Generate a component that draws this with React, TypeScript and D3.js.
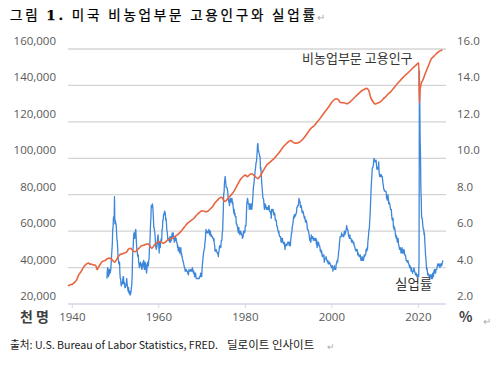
import React from 'react';
import * as d3 from 'd3';

// Non-farm payroll employment, thousands (year fraction, value)
const payrollPoints: [number, number][] = [
  [1939.0, 29900], [1939.5, 30600], [1940.0, 30800], [1940.5, 31900], [1941.0, 33300],
  [1941.5, 36100], [1942.0, 37700], [1942.5, 39800], [1943.0, 41400], [1943.8, 42500],
  [1944.0, 42000], [1944.5, 41800], [1945.0, 41400], [1945.4, 41200], [1945.75, 38800],
  [1946.0, 40000], [1946.5, 41900], [1947.0, 43500], [1947.5, 43800], [1948.0, 44700],
  [1948.6, 45200], [1949.0, 44700], [1949.8, 42900], [1950.0, 43500], [1950.5, 45400],
  [1951.0, 47100], [1951.5, 47500], [1952.0, 48000], [1952.5, 48400], [1953.0, 50100],
  [1953.5, 50600], [1954.0, 49200], [1954.6, 48700], [1955.0, 49700], [1955.5, 50800],
  [1956.0, 52000], [1956.5, 52200], [1957.0, 52800], [1957.5, 53000], [1958.0, 51500],
  [1958.4, 50600], [1959.0, 52500], [1959.5, 53500], [1960.0, 54300], [1960.5, 54200],
  [1961.0, 53300], [1961.5, 53900], [1962.0, 55000], [1962.5, 55600], [1963.0, 56000],
  [1963.5, 56700], [1964.0, 57500], [1964.5, 58400], [1965.0, 59500], [1965.5, 61000],
  [1966.0, 62500], [1966.5, 64000], [1967.0, 65000], [1967.5, 65900], [1968.0, 66800],
  [1968.5, 68100], [1969.0, 69400], [1969.5, 70500], [1970.0, 71200], [1970.5, 70900],
  [1971.0, 70600], [1971.5, 71300], [1972.0, 72400], [1972.5, 73700], [1973.0, 75600],
  [1973.5, 76800], [1974.0, 78100], [1974.6, 78600], [1975.0, 77000], [1975.3, 76300],
  [1976.0, 78000], [1976.5, 79300], [1977.0, 80700], [1977.5, 82400], [1978.0, 84600],
  [1978.5, 86800], [1979.0, 88800], [1979.5, 90000], [1980.0, 90800], [1980.5, 89900],
  [1981.0, 91000], [1981.5, 91500], [1982.0, 90600], [1982.9, 88800], [1983.0, 89000],
  [1983.5, 90500], [1984.0, 92600], [1984.5, 94600], [1985.0, 96400], [1985.5, 97500],
  [1986.0, 98500], [1986.5, 99500], [1987.0, 100800], [1987.5, 102200], [1988.0, 103700],
  [1988.5, 105400], [1989.0, 106900], [1989.5, 108000], [1990.0, 109200], [1990.5, 109800],
  [1991.0, 108900], [1991.5, 108300], [1992.0, 108400], [1992.5, 108800], [1993.0, 109800],
  [1993.5, 111000], [1994.0, 112600], [1994.5, 114300], [1995.0, 116000], [1995.5, 117100],
  [1996.0, 118000], [1996.5, 119600], [1997.0, 121000], [1997.5, 122600], [1998.0, 124200],
  [1998.5, 125800], [1999.0, 127300], [1999.5, 129000], [2000.0, 130800], [2000.5, 132000],
  [2001.0, 132700], [2001.5, 132200], [2002.0, 130600], [2002.5, 130500], [2003.0, 130400],
  [2003.5, 129900], [2004.0, 130600], [2004.5, 131600], [2005.0, 132700], [2005.5, 133900],
  [2006.0, 135100], [2006.5, 136200], [2007.0, 137200], [2007.5, 137800], [2008.0, 138400],
  [2008.5, 137400], [2009.0, 133300], [2009.5, 131200], [2010.0, 129800], [2010.5, 130200],
  [2011.0, 130700], [2011.5, 131600], [2012.0, 132900], [2012.5, 133900], [2013.0, 135300],
  [2013.5, 136300], [2014.0, 137600], [2014.5, 139000], [2015.0, 140600], [2015.5, 141900],
  [2016.0, 143200], [2016.5, 144400], [2017.0, 145600], [2017.5, 146700], [2018.0, 147800],
  [2018.5, 149000], [2019.0, 150200], [2019.5, 151200], [2020.1, 152400], [2020.25, 130400],
  [2020.42, 137800], [2020.75, 141700], [2021.0, 142700], [2021.5, 145900], [2022.0, 148900],
  [2022.5, 151800], [2023.0, 154600], [2023.5, 155800], [2024.0, 157000], [2024.5, 158100],
  [2025.0, 159000], [2025.6, 159500],
];

// Unemployment rate (%), monthly rows from 1948
const unrateStartYear = 1948;
const unrateByYear: number[][] = [
  [3.4, 3.8, 4.0, 3.9, 3.5, 3.6, 3.6, 3.9, 3.8, 3.7, 3.8, 4.0],
  [4.3, 4.7, 5.0, 5.3, 6.1, 6.2, 6.7, 6.8, 6.6, 7.9, 6.4, 6.6],
  [6.5, 6.4, 6.3, 5.8, 5.5, 5.4, 5.0, 4.5, 4.4, 4.2, 4.2, 4.3],
  [3.7, 3.4, 3.4, 3.1, 3.0, 3.2, 3.1, 3.1, 3.3, 3.5, 3.5, 3.1],
  [3.2, 3.1, 2.9, 2.9, 3.0, 3.0, 3.2, 3.4, 3.1, 3.0, 2.8, 2.7],
  [2.9, 2.6, 2.6, 2.7, 2.5, 2.5, 2.6, 2.7, 2.9, 3.1, 3.5, 4.5],
  [4.9, 5.2, 5.7, 5.9, 5.9, 5.6, 5.8, 6.0, 6.1, 5.7, 5.3, 5.0],
  [4.9, 4.7, 4.6, 4.7, 4.3, 4.2, 4.0, 4.2, 4.1, 4.3, 4.2, 4.2],
  [4.0, 3.9, 4.2, 4.0, 4.3, 4.3, 4.4, 4.1, 3.9, 3.9, 4.3, 4.2],
  [4.2, 3.9, 3.7, 3.9, 4.1, 4.3, 4.2, 4.1, 4.4, 4.5, 5.1, 5.2],
  [5.8, 6.4, 6.7, 7.4, 7.4, 7.3, 7.5, 7.4, 7.1, 6.7, 6.2, 6.2],
  [6.0, 5.9, 5.6, 5.2, 5.1, 5.0, 5.1, 5.2, 5.5, 5.7, 5.8, 5.3],
  [5.2, 4.8, 5.4, 5.2, 5.1, 5.4, 5.5, 5.6, 5.5, 6.1, 6.1, 6.6],
  [6.6, 6.9, 6.9, 7.0, 7.1, 6.9, 7.0, 6.6, 6.7, 6.5, 6.1, 6.0],
  [5.8, 5.5, 5.6, 5.6, 5.5, 5.5, 5.4, 5.7, 5.6, 5.4, 5.7, 5.5],
  [5.7, 5.9, 5.7, 5.7, 5.9, 5.6, 5.6, 5.4, 5.5, 5.5, 5.7, 5.5],
  [5.6, 5.4, 5.4, 5.3, 5.1, 5.2, 4.9, 5.0, 5.1, 5.1, 4.8, 5.0],
  [4.9, 5.1, 4.7, 4.8, 4.6, 4.6, 4.4, 4.4, 4.3, 4.2, 4.1, 4.0],
  [4.0, 3.8, 3.8, 3.8, 3.9, 3.8, 3.8, 3.8, 3.7, 3.7, 3.6, 3.8],
  [3.9, 3.8, 3.8, 3.8, 3.8, 3.9, 3.8, 3.8, 3.8, 4.0, 3.9, 3.8],
  [3.7, 3.8, 3.7, 3.5, 3.5, 3.7, 3.7, 3.5, 3.4, 3.4, 3.4, 3.4],
  [3.4, 3.4, 3.4, 3.4, 3.4, 3.5, 3.5, 3.5, 3.7, 3.7, 3.5, 3.5],
  [3.9, 4.2, 4.4, 4.6, 4.8, 4.9, 5.0, 5.1, 5.4, 5.5, 5.9, 6.1],
  [5.9, 5.9, 6.0, 5.9, 5.9, 5.9, 6.0, 6.1, 6.0, 5.8, 6.0, 6.0],
  [5.8, 5.7, 5.8, 5.7, 5.7, 5.7, 5.6, 5.6, 5.5, 5.6, 5.3, 5.2],
  [4.9, 5.0, 4.9, 5.0, 4.9, 4.9, 4.8, 4.8, 4.8, 4.6, 4.8, 4.9],
  [5.1, 5.2, 5.1, 5.1, 5.1, 5.4, 5.5, 5.5, 5.9, 6.0, 6.6, 7.2],
  [8.1, 8.1, 8.6, 8.8, 9.0, 8.8, 8.6, 8.4, 8.4, 8.4, 8.3, 8.2],
  [7.9, 7.7, 7.6, 7.7, 7.4, 7.6, 7.8, 7.8, 7.6, 7.7, 7.8, 7.8],
  [7.5, 7.6, 7.4, 7.2, 7.0, 7.2, 6.9, 7.0, 6.8, 6.8, 6.8, 6.4],
  [6.4, 6.3, 6.3, 6.1, 6.0, 5.9, 6.2, 5.9, 6.0, 5.8, 5.9, 6.0],
  [5.9, 5.9, 5.8, 5.8, 5.6, 5.7, 5.7, 6.0, 5.9, 6.0, 5.9, 6.0],
  [6.3, 6.3, 6.3, 6.9, 7.5, 7.6, 7.8, 7.7, 7.5, 7.5, 7.5, 7.2],
  [7.5, 7.4, 7.4, 7.2, 7.5, 7.5, 7.2, 7.4, 7.6, 7.9, 8.3, 8.5],
  [8.6, 8.9, 9.0, 9.3, 9.4, 9.6, 9.8, 9.8, 10.1, 10.4, 10.8, 10.8],
  [10.4, 10.4, 10.3, 10.2, 10.1, 10.1, 9.4, 9.5, 9.2, 8.8, 8.5, 8.3],
  [8.0, 7.8, 7.8, 7.7, 7.4, 7.2, 7.5, 7.5, 7.3, 7.4, 7.2, 7.3],
  [7.3, 7.2, 7.2, 7.3, 7.2, 7.4, 7.4, 7.1, 7.1, 7.1, 7.0, 7.0],
  [6.7, 7.2, 7.2, 7.1, 7.2, 7.2, 7.0, 6.9, 7.0, 7.0, 6.9, 6.6],
  [6.6, 6.6, 6.6, 6.3, 6.3, 6.2, 6.1, 6.0, 5.9, 6.0, 5.8, 5.7],
  [5.7, 5.7, 5.7, 5.4, 5.6, 5.4, 5.4, 5.6, 5.4, 5.4, 5.3, 5.3],
  [5.4, 5.2, 5.0, 5.2, 5.2, 5.3, 5.2, 5.2, 5.3, 5.3, 5.4, 5.4],
  [5.4, 5.3, 5.2, 5.4, 5.4, 5.2, 5.5, 5.7, 5.9, 5.9, 6.2, 6.3],
  [6.4, 6.6, 6.8, 6.7, 6.9, 6.9, 6.8, 6.9, 6.9, 7.0, 7.0, 7.3],
  [7.3, 7.4, 7.4, 7.4, 7.6, 7.8, 7.7, 7.6, 7.6, 7.3, 7.4, 7.4],
  [7.3, 7.1, 7.0, 7.1, 7.1, 7.0, 6.9, 6.8, 6.7, 6.8, 6.6, 6.5],
  [6.6, 6.6, 6.5, 6.4, 6.1, 6.1, 6.1, 6.0, 5.9, 5.8, 5.6, 5.5],
  [5.6, 5.4, 5.4, 5.8, 5.6, 5.6, 5.7, 5.7, 5.6, 5.5, 5.6, 5.6],
  [5.6, 5.5, 5.5, 5.6, 5.6, 5.3, 5.5, 5.1, 5.2, 5.2, 5.4, 5.4],
  [5.3, 5.2, 5.2, 5.1, 4.9, 5.0, 4.9, 4.8, 4.9, 4.7, 4.6, 4.7],
  [4.6, 4.6, 4.7, 4.3, 4.4, 4.5, 4.5, 4.5, 4.6, 4.5, 4.4, 4.4],
  [4.3, 4.4, 4.2, 4.3, 4.2, 4.3, 4.3, 4.2, 4.2, 4.1, 4.1, 4.0],
  [4.0, 4.1, 4.0, 3.8, 4.0, 4.0, 4.0, 4.1, 3.9, 3.9, 3.9, 3.9],
  [4.2, 4.2, 4.3, 4.4, 4.3, 4.5, 4.6, 4.9, 5.0, 5.3, 5.5, 5.7],
  [5.7, 5.7, 5.7, 5.9, 5.8, 5.8, 5.8, 5.7, 5.7, 5.7, 5.9, 6.0],
  [5.8, 5.9, 5.9, 6.0, 6.1, 6.3, 6.2, 6.1, 6.1, 6.0, 5.8, 5.7],
  [5.7, 5.6, 5.8, 5.6, 5.6, 5.6, 5.5, 5.4, 5.4, 5.5, 5.4, 5.4],
  [5.3, 5.4, 5.2, 5.2, 5.1, 5.0, 5.0, 4.9, 5.0, 5.0, 5.0, 4.9],
  [4.7, 4.8, 4.7, 4.7, 4.6, 4.6, 4.7, 4.7, 4.5, 4.4, 4.5, 4.4],
  [4.6, 4.5, 4.4, 4.5, 4.4, 4.6, 4.7, 4.6, 4.7, 4.7, 4.7, 5.0],
  [5.0, 4.9, 5.1, 5.0, 5.4, 5.6, 5.8, 6.1, 6.1, 6.5, 6.8, 7.3],
  [7.8, 8.3, 8.7, 9.0, 9.4, 9.5, 9.5, 9.6, 9.8, 10.0, 9.9, 9.9],
  [9.8, 9.8, 9.9, 9.9, 9.6, 9.4, 9.4, 9.5, 9.5, 9.4, 9.8, 9.3],
  [9.1, 9.0, 9.0, 9.1, 9.0, 9.1, 9.0, 9.0, 9.0, 8.8, 8.6, 8.5],
  [8.3, 8.3, 8.2, 8.2, 8.2, 8.2, 8.2, 8.1, 7.8, 7.8, 7.7, 7.9],
  [8.0, 7.7, 7.5, 7.6, 7.5, 7.5, 7.3, 7.2, 7.2, 7.2, 6.9, 6.7],
  [6.6, 6.7, 6.7, 6.2, 6.3, 6.1, 6.2, 6.1, 5.9, 5.7, 5.8, 5.6],
  [5.7, 5.5, 5.4, 5.4, 5.6, 5.3, 5.2, 5.1, 5.0, 5.0, 5.1, 5.0],
  [4.8, 4.9, 5.0, 5.1, 4.8, 4.9, 4.8, 4.9, 5.0, 4.9, 4.7, 4.7],
  [4.7, 4.6, 4.4, 4.4, 4.4, 4.3, 4.3, 4.4, 4.3, 4.2, 4.2, 4.1],
  [4.0, 4.1, 4.0, 4.0, 3.8, 4.0, 3.8, 3.8, 3.7, 3.8, 3.8, 3.9],
  [4.0, 3.8, 3.8, 3.7, 3.6, 3.6, 3.7, 3.6, 3.5, 3.6, 3.6, 3.6],
  [3.5, 3.5, 4.4, 14.8, 13.2, 11.0, 10.2, 8.4, 7.8, 6.8, 6.7, 6.7],
  [6.4, 6.2, 6.1, 6.1, 5.8, 5.9, 5.4, 5.1, 4.7, 4.5, 4.2, 3.9],
  [4.0, 3.8, 3.6, 3.7, 3.6, 3.6, 3.5, 3.6, 3.5, 3.6, 3.6, 3.5],
  [3.4, 3.6, 3.5, 3.4, 3.7, 3.6, 3.5, 3.8, 3.8, 3.9, 3.7, 3.8],
  [3.7, 3.9, 3.9, 3.9, 4.0, 4.1, 4.2, 4.2, 4.1, 4.1, 4.2, 4.1],
  [4.0, 4.1, 4.2, 4.2, 4.2, 4.1, 4.2, 4.3, 4.4],
];

const leftTicks = [20000, 40000, 60000, 80000, 100000, 120000, 140000, 160000];
const rightTicks = [2, 4, 6, 8, 10, 12, 14, 16];
const yearTicks = [1940, 1960, 1980, 2000, 2020];

const W = 501;
const H = 369;
const plot = { left: 68, right: 446, top: 49, bottom: 304 };

const ORANGE = '#E8653F';
const BLUE = '#3C87DA';
const FONT = '"Noto Sans CJK KR", "Noto Sans", sans-serif';
const NUM_FONT = '"Open Sans", "Noto Sans", sans-serif';

export default function App() {
  const x = d3.scaleLinear().domain([1939, 2026.4]).range([plot.left, plot.right]);
  const yLeft = d3.scaleLinear().domain([20000, 160000]).range([plot.bottom, plot.top]);
  const yRight = d3.scaleLinear().domain([2, 16]).range([plot.bottom, plot.top]);

  const unratePoints: [number, number][] = [];
  unrateByYear.forEach((row, i) => {
    row.forEach((v, m) => unratePoints.push([unrateStartYear + i + m / 12, v]));
  });

  const payrollLine = d3.line<[number, number]>()
    .x((d) => x(d[0]))
    .y((d) => yLeft(d[1]))
    .curve(d3.curveMonotoneX);
  const unrateLine = d3.line<[number, number]>()
    .x((d) => x(d[0]))
    .y((d) => yRight(d[1]));

  const fmt = d3.format(',');

  return (
    <svg width={W} height={H} style={{ position: 'absolute', left: 0, top: 0, background: '#fff' }}
      fontFamily={FONT}>
      {/* title */}
      <text x={10} y={20} fontSize={13.5} fill="#000" stroke="#000" strokeWidth={0.25}
        textLength={305} lengthAdjust="spacing">
        그림 <tspan fontWeight="bold" fontFamily='"DejaVu Serif", serif'>1.</tspan> 미국 비농업부문 고용인구와 실업률
      </text>
      <text x={317} y={21} fontSize={10} fill="#aaa">↵</text>

      {/* gridlines */}
      {leftTicks.slice(1).map((t) => (
        <line key={t} x1={plot.left} x2={plot.right} y1={yLeft(t)} y2={yLeft(t)}
          stroke="#d4d4d4" strokeWidth={1.3} />
      ))}
      <line x1={plot.left} x2={plot.right} y1={plot.bottom} y2={plot.bottom} stroke="#d3d7e6" strokeWidth={1.3} />
      {yearTicks.map((t) => (
        <line key={t} x1={x(t)} x2={x(t)} y1={plot.bottom} y2={plot.bottom + 4} stroke="#d3d7e6" strokeWidth={1} />
      ))}

      {/* left axis */}
      {leftTicks.map((t) => (
        <text key={t} x={56} y={yLeft(t) - 4} fontSize={11.5} fill="#595959" textAnchor="end"
          fontFamily={NUM_FONT}>{fmt(t)}</text>
      ))}
      {/* right axis */}
      {rightTicks.map((t) => (
        <text key={t} x={457} y={yRight(t) - 4} fontSize={11.5} fill="#595959"
          fontFamily={NUM_FONT}>{t.toFixed(1)}</text>
      ))}
      {/* x axis */}
      {yearTicks.map((t) => (
        <text key={t} x={x(t)} y={321} fontSize={11.5} fill="#595959" textAnchor="middle"
          fontFamily={NUM_FONT}>{t}</text>
      ))}
      <text x={20} y={322} fontSize={14} fontWeight="bold" fill="#404040">천 명</text>
      <text x={459} y={322} fontSize={14} fontWeight="bold" fill="#404040">%</text>
      <text x={483} y={325} fontSize={10} fill="#aaa">↵</text>

      {/* series */}
      <path d={unrateLine(unratePoints) ?? ''} fill="none" stroke={BLUE} strokeWidth={1.3} strokeLinejoin="round" />
      <path d={payrollLine(payrollPoints) ?? ''} fill="none" stroke={ORANGE} strokeWidth={1.6} strokeLinejoin="round" />

      {/* annotations */}
      <text x={302} y={63} fontSize={13} fill="#333">비농업부문 고용인구</text>
      <text x={395} y={289} fontSize={13.5} fill="#333">실업률</text>

      {/* source */}
      <text x={10} y={349} fontSize={11} fill="#1a1a1a" textLength={208} lengthAdjust="spacingAndGlyphs">
        출처: U.S. Bureau of Labor Statistics, FRED.
      </text>
      <text x={227} y={349} fontSize={11.5} fill="#1a1a1a">딜로이트 인사이트</text>
      <text x={327} y={350} fontSize={9} fill="#aaa">↵</text>
    </svg>
  );
}
